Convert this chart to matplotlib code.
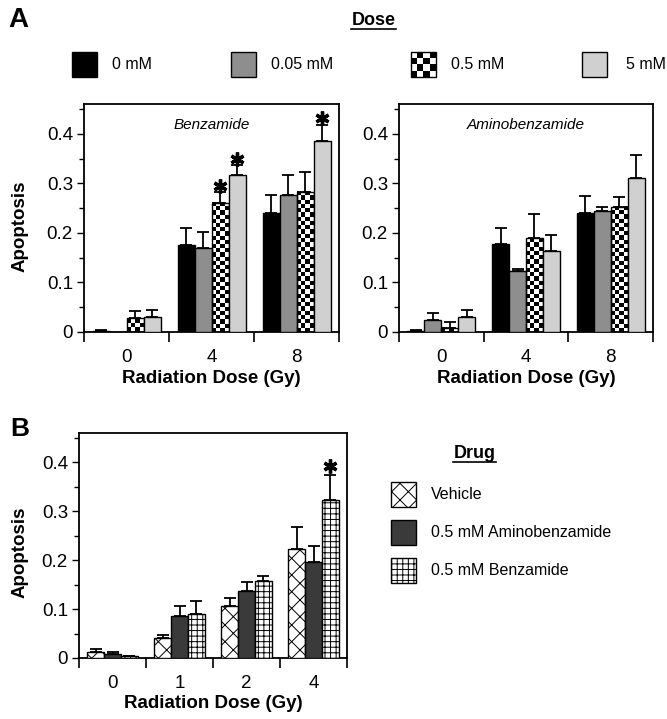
import numpy as np
import matplotlib.pyplot as plt
from matplotlib.patches import Rectangle
from matplotlib.ticker import MultipleLocator

plt.rcParams['font.family'] = ['Liberation Sans', 'DejaVu Sans']
plt.rcParams['hatch.linewidth'] = 0.7

# ---- data ----
doses_a = ['0', '4', '8']
conc_labels = ['0 mM', '0.05 mM', '0.5 mM', '5 mM']
# one row per concentration, one value per radiation dose
benz_mean = [[0.003, 0.176, 0.241],
             [0.0, 0.170, 0.276],
             [0.028, 0.261, 0.283],
             [0.030, 0.317, 0.386]]
benz_err = [[0.001, 0.033, 0.035],
            [0.0, 0.032, 0.041],
            [0.015, 0.021, 0.039],
            [0.015, 0.020, 0.032]]
benz_star = [[0, 0, 0], [0, 0, 0], [0, 1, 0], [0, 1, 1]]

amino_mean = [[0.003, 0.177, 0.240],
              [0.025, 0.123, 0.244],
              [0.009, 0.189, 0.253],
              [0.031, 0.164, 0.311]]
amino_err = [[0.001, 0.032, 0.035],
             [0.013, 0.005, 0.008],
             [0.011, 0.049, 0.019],
             [0.014, 0.031, 0.047]]
amino_star = [[0, 0, 0], [0, 0, 0], [0, 0, 0], [0, 0, 0]]

doses_b = ['0', '1', '2', '4']
drug_labels = ['Vehicle', '0.5 mM Aminobenzamide', '0.5 mM Benzamide']
drug_mean = [[0.012, 0.040, 0.107, 0.222],
             [0.009, 0.085, 0.137, 0.197],
             [0.004, 0.090, 0.158, 0.323]]
drug_err = [[0.006, 0.007, 0.016, 0.045],
            [0.004, 0.022, 0.018, 0.032],
            [0.001, 0.027, 0.010, 0.052]]
drug_star = [[0, 0, 0, 0], [0, 0, 0, 0], [0, 0, 0, 1]]

# ---- styles ----
conc_fills = [{'fc': 'black'}, {'fc': '#8e8e8e'}, 'checker', {'fc': '#d0d0d0'}]
drug_fills = [{'fc': 'white', 'hatch': 'xx'}, {'fc': '#3a3a3a'},
              {'fc': 'white', 'hatch': '+++'}]
CELL = 4.2  # checker cell size in pixels

W, H = 667, 719
fig = plt.figure(figsize=(W / 100, H / 100), dpi=100)


def px_axes(l, t, r, b):
    return fig.add_axes([l / W, 1 - b / H, (r - l) / W, (b - t) / H])


def style_axes(ax, labels):
    ng = len(labels)
    ax.set_xlim(0, ng)
    ax.set_ylim(0, 0.46)
    ax.set_xticks(np.arange(ng) + 0.5, labels)
    ax.set_xticks(np.arange(ng + 1), minor=True)
    ax.tick_params(axis='x', which='major', length=0, pad=12, labelsize=13.5)
    ax.tick_params(axis='x', which='minor', length=7, width=1.2, direction='out')
    ax.set_yticks([0, 0.1, 0.2, 0.3, 0.4], ['0', '0.1', '0.2', '0.3', '0.4'])
    ax.yaxis.set_minor_locator(MultipleLocator(0.05))
    ax.tick_params(axis='y', which='major', length=5, width=1, labelsize=13.5, pad=3)
    ax.tick_params(axis='y', which='minor', length=3.5, width=1)
    for s in ax.spines.values():
        s.set_linewidth(1.3)


def checker(ax, x0, w, h):
    (p0x, p0y), (p1x, p1y) = ax.transData.transform([(x0, 0), (x0 + w, h)])
    nx = max(1, round((p1x - p0x) / CELL))
    ny = max(1, round((p1y - p0y) / CELL))
    grid = np.add.outer(np.arange(ny), np.arange(nx)) % 2
    ax.imshow(grid, cmap='gray', vmin=0, vmax=1, extent=(x0, x0 + w, 0, h),
              origin='lower', aspect='auto', interpolation='nearest', zorder=2)


def draw_bars(ax, means, errs, stars, fills, width, star_gap):
    n = len(means)
    x = np.arange(len(means[0])) + 0.5
    for i in range(n):
        xi = x + (i - (n - 1) / 2) * width
        m = np.array(means[i])
        e = np.array(errs[i])
        f = fills[i]
        if f == 'checker':
            ax.bar(xi, m, width, facecolor='none', edgecolor='black', lw=1, zorder=3)
            for xx, mm in zip(xi, m):
                if mm > 0:
                    checker(ax, xx - width / 2, width, mm)
        else:
            ax.bar(xi, m, width, color=f['fc'], hatch=f.get('hatch'),
                   edgecolor='black', lw=1, zorder=3)
        ok = e > 0
        ax.errorbar(xi[ok], m[ok], yerr=[np.zeros(ok.sum()), e[ok]], fmt='none',
                    ecolor='black', elinewidth=1.3, capsize=4.5, capthick=1.3, zorder=4)
        s = np.array(stars[i]) > 0
        if s.any():
            ax.plot(xi[s], (m + e)[s] + star_gap, ls='none', marker=(6, 2, 0),
                    ms=10, mew=2.4, color='black', zorder=5, clip_on=False)
    ax.set_xlim(0, len(means[0]))
    ax.set_ylim(0, 0.46)


# ---- panel A ----
axA1 = px_axes(84, 104, 339, 332)
axA2 = px_axes(399, 104, 653, 332)
for ax, means, errs, stars, name in [(axA1, benz_mean, benz_err, benz_star, 'Benzamide'),
                                      (axA2, amino_mean, amino_err, amino_star, 'Aminobenzamide')]:
    style_axes(ax, doses_a)
    draw_bars(ax, means, errs, stars, conc_fills, 0.2, 0.013)
    ax.text(0.5, 0.908, name, transform=ax.transAxes, ha='center', va='center',
            style='italic', fontsize=11)
    ax.text(0.5, -0.205, 'Radiation Dose (Gy)', transform=ax.transAxes, ha='center',
            va='center', fontsize=13.5, fontweight='bold')
axA1.text(-0.25, 0.465, 'Apoptosis', transform=axA1.transAxes, rotation=90,
          ha='center', va='center', fontsize=13.5, fontweight='bold')

# ---- panel B ----
axB = px_axes(79, 433, 347, 658)
style_axes(axB, doses_b)
draw_bars(axB, drug_mean, drug_err, drug_star, drug_fills, 0.25, 0.017)
axB.text(0.5, -0.2, 'Radiation Dose (Gy)', transform=axB.transAxes, ha='center',
         va='center', fontsize=13.5, fontweight='bold')
axB.text(-0.22, 0.471, 'Apoptosis', transform=axB.transAxes, rotation=90,
         ha='center', va='center', fontsize=13.5, fontweight='bold')

# ---- legends and panel letters (pixel coordinates) ----
lg = fig.add_axes([0, 0, 1, 1])
lg.set_xlim(0, W)
lg.set_ylim(H, 0)
lg.axis('off')

lg.text(8, 27, 'A', fontsize=20, fontweight='bold', va='baseline')
lg.text(10, 436, 'B', fontsize=19, fontweight='bold', va='baseline')

lg.text(373.5, 25, 'Dose', ha='center', va='baseline', fontsize=13, fontweight='bold')
lg.plot([351, 396], [28.5, 28.5], color='black', lw=1.2)
for sx, tx, lab, f in zip([72, 231, 411, 582], [112, 271, 451, 626], conc_labels, conc_fills):
    if f == 'checker':
        lg.imshow(np.add.outer(np.arange(4), np.arange(4)) % 2, cmap='gray_r',
                  extent=(sx, sx + 25, 77, 52), origin='upper', aspect='auto',
                  interpolation='nearest', zorder=2)
        lg.add_patch(Rectangle((sx, 52), 25, 25, facecolor='none', edgecolor='black',
                               lw=1, zorder=3))
    else:
        lg.add_patch(Rectangle((sx, 52), 25, 25, facecolor=f['fc'], edgecolor='black', lw=1))
    lg.text(tx, 64.5, lab, va='center', fontsize=11.5)

lg.text(474.5, 458, 'Drug', ha='center', va='baseline', fontsize=13, fontweight='bold')
lg.plot([453, 496], [461.5, 461.5], color='black', lw=1.2)
for sy, lab, f in zip([482, 520, 558], drug_labels, drug_fills):
    lg.add_patch(Rectangle((391, sy), 25, 25, facecolor=f['fc'], hatch=f.get('hatch'),
                           edgecolor='black', lw=1))
    lg.text(431, sy + 12.5, lab, va='center', fontsize=11.5)
lg.set_xlim(0, W)
lg.set_ylim(H, 0)

fig.savefig('out.png', dpi=100)
